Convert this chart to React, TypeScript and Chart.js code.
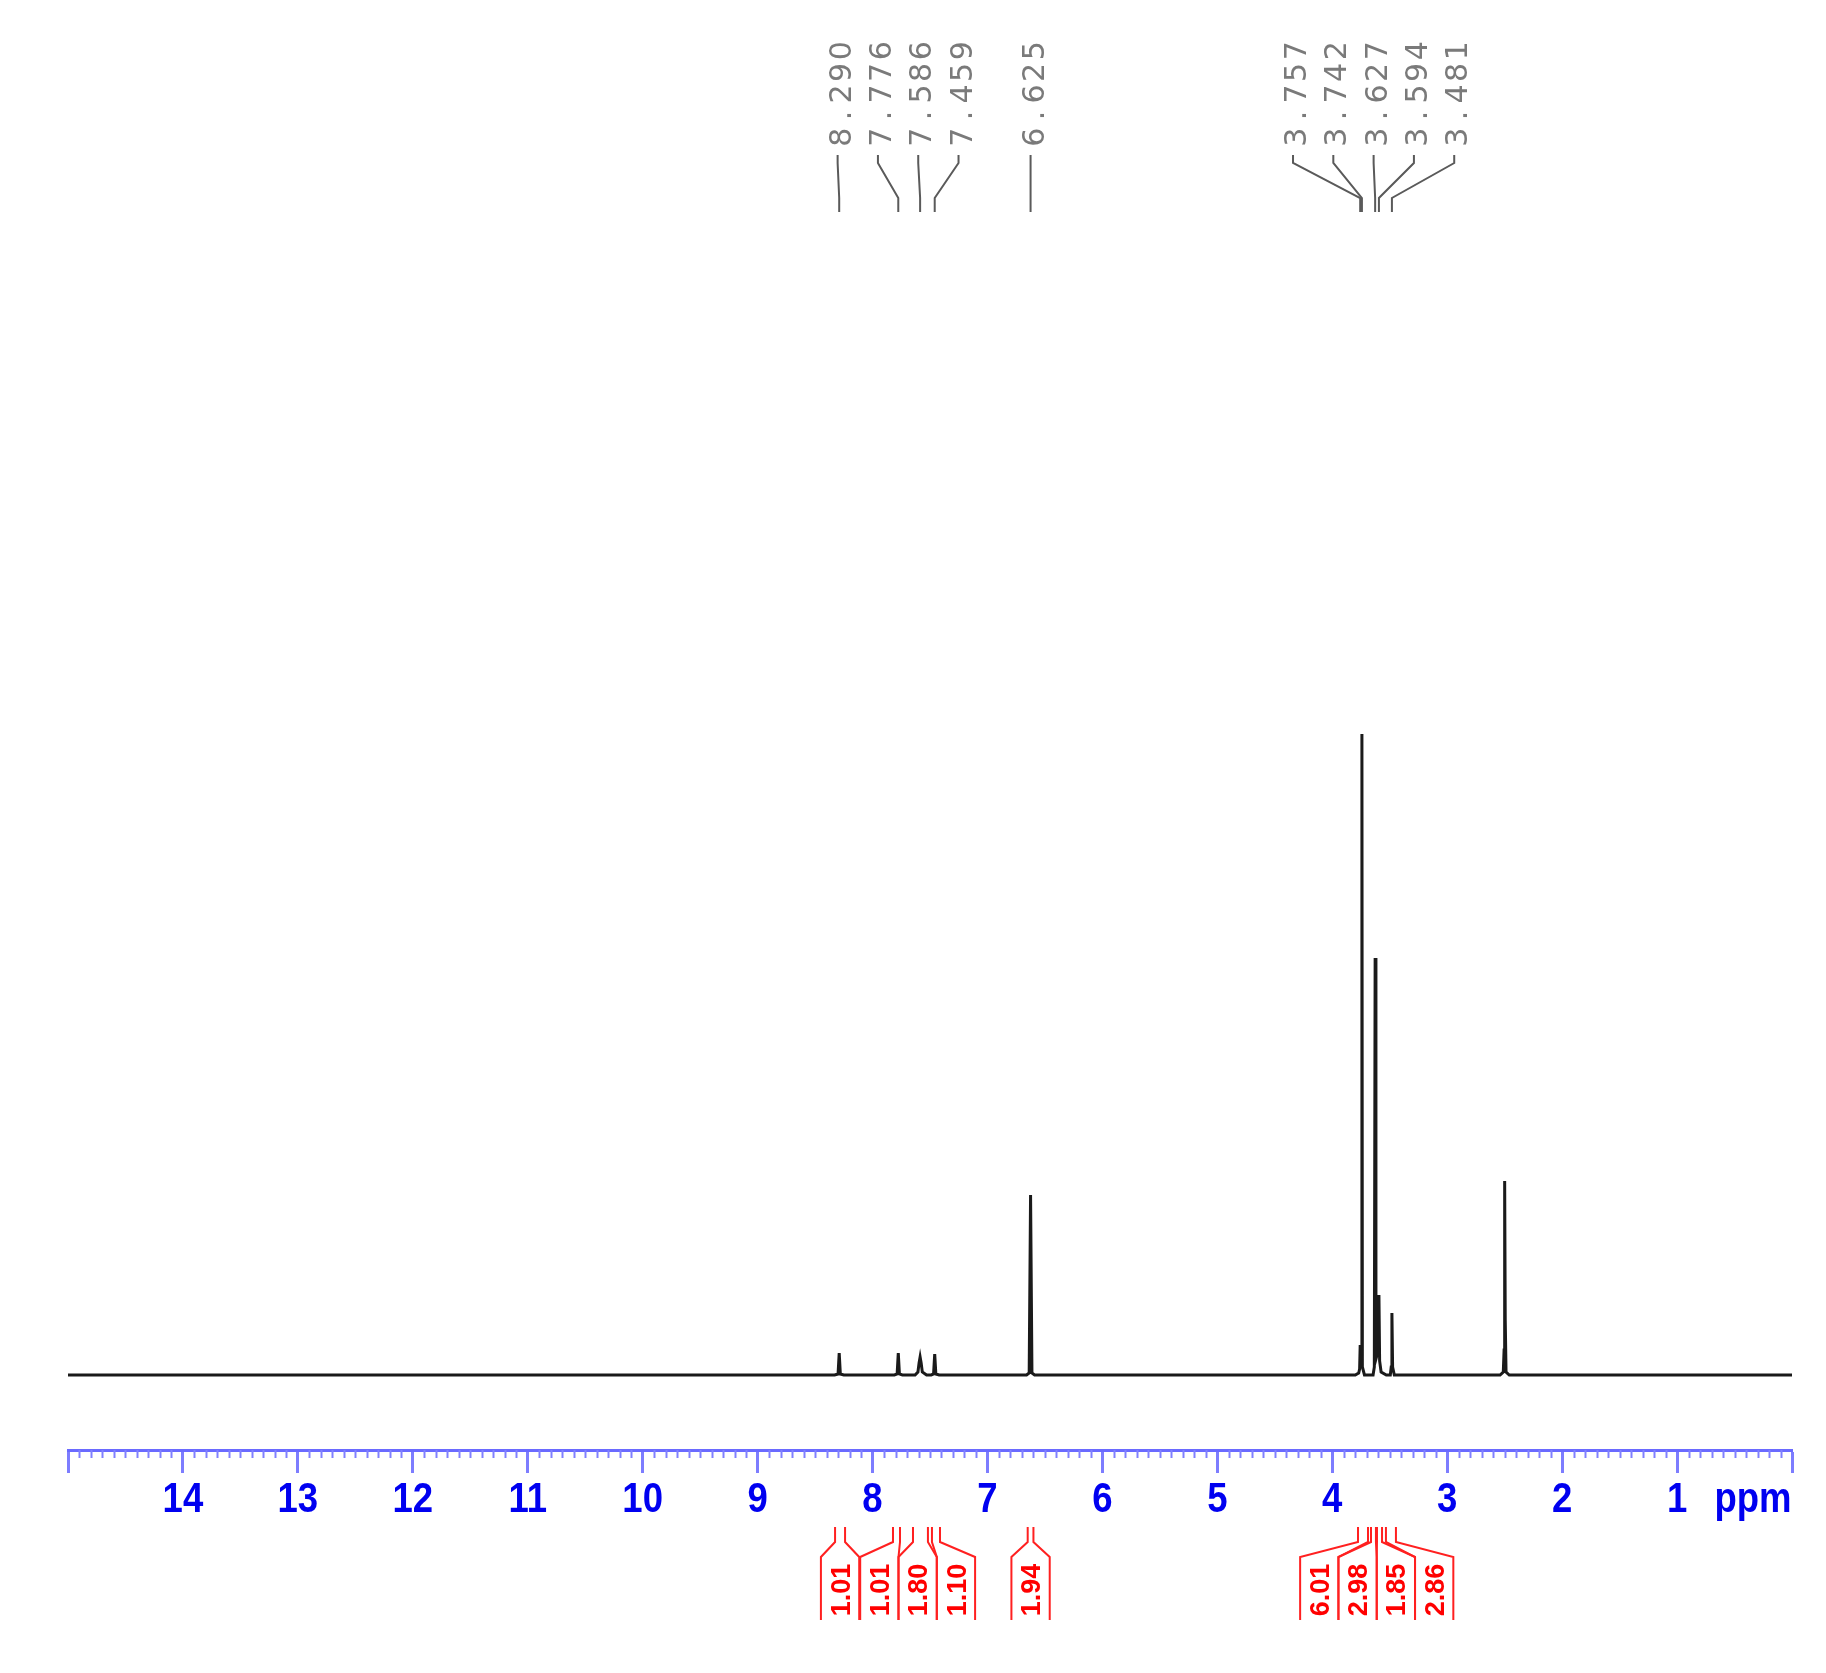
import React, { useEffect, useRef } from "react";
import { Chart, registerables } from "chart.js";

Chart.register(...registerables);

// ---- spectrum (ppm, relative intensity) ----
const spectrumPpm = [
  15.0,
  8.33, 8.3, 8.29, 8.28, 8.25,
  7.81, 7.786, 7.776, 7.766, 7.74,
  7.63, 7.605, 7.595, 7.586, 7.577, 7.567, 7.53,
  7.49, 7.469, 7.459, 7.449, 7.42,
  6.66, 6.637, 6.625, 6.613, 6.59,
  3.8, 3.77, 3.762, 3.757, 3.752, 3.746, 3.742, 3.738, 3.72,
  3.645, 3.634, 3.627, 3.62, 3.606, 3.6, 3.594, 3.588, 3.575, 3.53,
  3.495, 3.487, 3.481, 3.475, 3.46,
  2.54, 2.512, 2.505, 2.5, 2.495, 2.488, 2.46,
  0.0,
];
const spectrumIntensity = [
  0,
  0, 1, 22, 1, 0,
  0, 1, 22, 1, 0,
  0, 3, 12, 18, 12, 3, 0,
  0, 1, 21, 1, 0,
  0, 2, 180, 2, 0,
  0, 2, 6, 30, 8, 12, 641, 8, 0,
  0, 8, 417, 16, 22, 45, 80, 14, 3, 0,
  0, 8, 62, 8, 0,
  0, 3, 25, 194, 55, 3, 0,
  0,
];

// ---- peak labels ----
const peakLabelPpm = [8.29, 7.776, 7.586, 7.459, 6.625, 3.757, 3.742, 3.627, 3.594, 3.481];
const peakLabelText = ["8.290", "7.776", "7.586", "7.459", "6.625", "3.757", "3.742", "3.627", "3.594", "3.481"];

// ---- integrals ----
const integralFrom = [8.326, 7.822, 7.648, 7.483, 6.65, 3.776, 3.663, 3.611, 3.533];
const integralTo = [8.239, 7.761, 7.518, 7.413, 6.6, 3.689, 3.62, 3.567, 3.446];
const integralValues = ["1.01", "1.01", "1.80", "1.10", "1.94", "6.01", "2.98", "1.85", "2.86"];

// ---- axis ----
const axisMin = 0;
const axisMax = 15;
const axisUnit = "ppm";
const yMin = -75;
const yMax = 1145;

const AXIS_FONT = "bold 43px 'Liberation Sans', Arial, sans-serif";
const AXIS_SQUEEZE = 0.85;

function spread(xs: number[], gap: number): number[] {
  let groups = xs.map((x, i) => ({ idx: [i], center: x }));
  let changed = true;
  while (changed) {
    changed = false;
    for (let i = 0; i < groups.length - 1; i++) {
      const a = groups[i];
      const b = groups[i + 1];
      const aEnd = a.center + ((a.idx.length - 1) * gap) / 2;
      const bStart = b.center - ((b.idx.length - 1) * gap) / 2;
      if (bStart - aEnd < gap) {
        const idx = [...a.idx, ...b.idx];
        const center = idx.reduce((s, k) => s + xs[k], 0) / idx.length;
        groups.splice(i, 2, { idx, center });
        changed = true;
        break;
      }
    }
  }
  const out: number[] = new Array(xs.length);
  groups.forEach((g) =>
    g.idx.forEach((k, j) => {
      out[k] = g.center + (j - (g.idx.length - 1) / 2) * gap;
    })
  );
  return out;
}

function squeezedText(ctx: CanvasRenderingContext2D, text: string, x: number, y: number) {
  ctx.save();
  ctx.translate(x, y);
  ctx.scale(AXIS_SQUEEZE, 1);
  ctx.fillText(text, 0, 0);
  ctx.restore();
}

const annotPlugin = {
  id: "nmrAnnot",
  afterDraw(chart: any) {
    const ctx: CanvasRenderingContext2D = chart.ctx;
    const xs = chart.scales.x;
    const bottom = chart.chartArea.bottom;

    ctx.save();
    // minor ticks
    ctx.strokeStyle = "#8080ff";
    ctx.lineWidth = 2;
    for (let k = 0; k <= 150; k++) {
      if (k % 10 === 0) continue;
      const x = Math.round(xs.getPixelForValue(k / 10)) + 0.5;
      ctx.beginPath();
      ctx.moveTo(x, bottom);
      ctx.lineTo(x, bottom + 8);
      ctx.stroke();
    }

    // tick labels (from the scale's own ticks) and unit
    ctx.fillStyle = "#0000f0";
    ctx.font = AXIS_FONT;
    ctx.textAlign = "center";
    ctx.textBaseline = "alphabetic";
    const labelBase = bottom + 62;
    xs.ticks.forEach((t: any) => {
      if (t.value === axisMin || t.value === axisMax) return;
      squeezedText(ctx, String(t.value), xs.getPixelForValue(t.value), labelBase);
    });
    squeezedText(ctx, axisUnit, 1753, labelBase);

    // peak labels
    const px = peakLabelPpm.map((p) => xs.getPixelForValue(p));
    const lx = spread(px, 40.3);
    ctx.strokeStyle = "#5a5a5a";
    ctx.lineWidth = 2;
    for (let i = 0; i < px.length; i++) {
      ctx.beginPath();
      ctx.moveTo(lx[i], 155);
      ctx.lineTo(lx[i], 163);
      ctx.lineTo(px[i], 198);
      ctx.lineTo(px[i], 212);
      ctx.stroke();

      ctx.save();
      ctx.translate(lx[i] + 2, 148);
      ctx.rotate(-Math.PI / 2);
      ctx.fillStyle = "#7a7a7a";
      ctx.font = "30px 'DejaVu Sans', sans-serif";
      ctx.textAlign = "center";
      ctx.textBaseline = "alphabetic";
      const t = peakLabelText[i];
      for (let c = 0; c < t.length; c++) {
        ctx.fillText(t[c], c * 21.6 + 10.8, 11);
      }
      ctx.restore();
    }

    // integrals
    const ix1 = integralFrom.map((p) => xs.getPixelForValue(p));
    const ix2 = integralTo.map((p) => xs.getPixelForValue(p));
    const ic = ix1.map((x, i) => (x + ix2[i]) / 2);
    const bx = spread(ic, 38.3);
    const half = 19.15;
    ctx.strokeStyle = "#ff2020";
    ctx.lineWidth = 2;
    for (let i = 0; i < ic.length; i++) {
      const L = bx[i] - half;
      const R = bx[i] + half;
      ctx.beginPath();
      ctx.moveTo(L, 1620);
      ctx.lineTo(L, 1557);
      ctx.lineTo(ix1[i], 1542);
      ctx.lineTo(ix1[i], 1527);
      ctx.moveTo(R, 1620);
      ctx.lineTo(R, 1557);
      ctx.lineTo(ix2[i], 1542);
      ctx.lineTo(ix2[i], 1527);
      ctx.stroke();

      ctx.save();
      ctx.translate(bx[i], 1590);
      ctx.rotate(-Math.PI / 2);
      ctx.fillStyle = "#ff0000";
      ctx.font = "bold 27px 'Liberation Sans', Arial, sans-serif";
      ctx.textAlign = "center";
      ctx.textBaseline = "alphabetic";
      ctx.fillText(integralValues[i], 0, 9.6);
      ctx.restore();
    }
    ctx.restore();
  },
};

export default function App() {
  const ref = useRef<HTMLCanvasElement | null>(null);

  useEffect(() => {
    if (!ref.current) return;
    const data = spectrumPpm.map((p, i) => ({ x: p, y: spectrumIntensity[i] }));
    const chart = new Chart(ref.current, {
      type: "line",
      data: {
        datasets: [
          {
            data,
            borderColor: "#1a1a1a",
            borderWidth: 3,
            pointRadius: 0,
            tension: 0,
            fill: false,
          },
        ],
      },
      options: {
        responsive: false,
        animation: false,
        devicePixelRatio: 1,
        layout: { padding: { left: 68, right: 34, top: 230, bottom: 0 } },
        plugins: { legend: { display: false }, tooltip: { enabled: false } },
        scales: {
          x: {
            type: "linear",
            reverse: true,
            min: axisMin,
            max: axisMax,
            position: "bottom",
            afterFit: (s: any) => {
              s.height = 223;
              s.paddingLeft = 0;
              s.paddingRight = 0;
            },
            border: { display: true, color: "#6a6aff", width: 3 },
            grid: {
              display: true,
              drawOnChartArea: false,
              drawTicks: true,
              tickLength: 23,
              tickColor: "#7d7dff",
              tickWidth: 3,
            },
            ticks: {
              stepSize: 1,
              autoSkip: false,
              maxRotation: 0,
              minRotation: 0,
              display: false,
            },
          },
          y: { display: false, min: yMin, max: yMax },
        },
      },
      plugins: [annotPlugin],
    });
    return () => chart.destroy();
  }, []);

  return (
    <div style={{ position: "fixed", left: 0, top: 0, width: 1826, height: 1673, background: "#fff" }}>
      <canvas ref={ref} width={1826} height={1673} style={{ display: "block" }} />
    </div>
  );
}
